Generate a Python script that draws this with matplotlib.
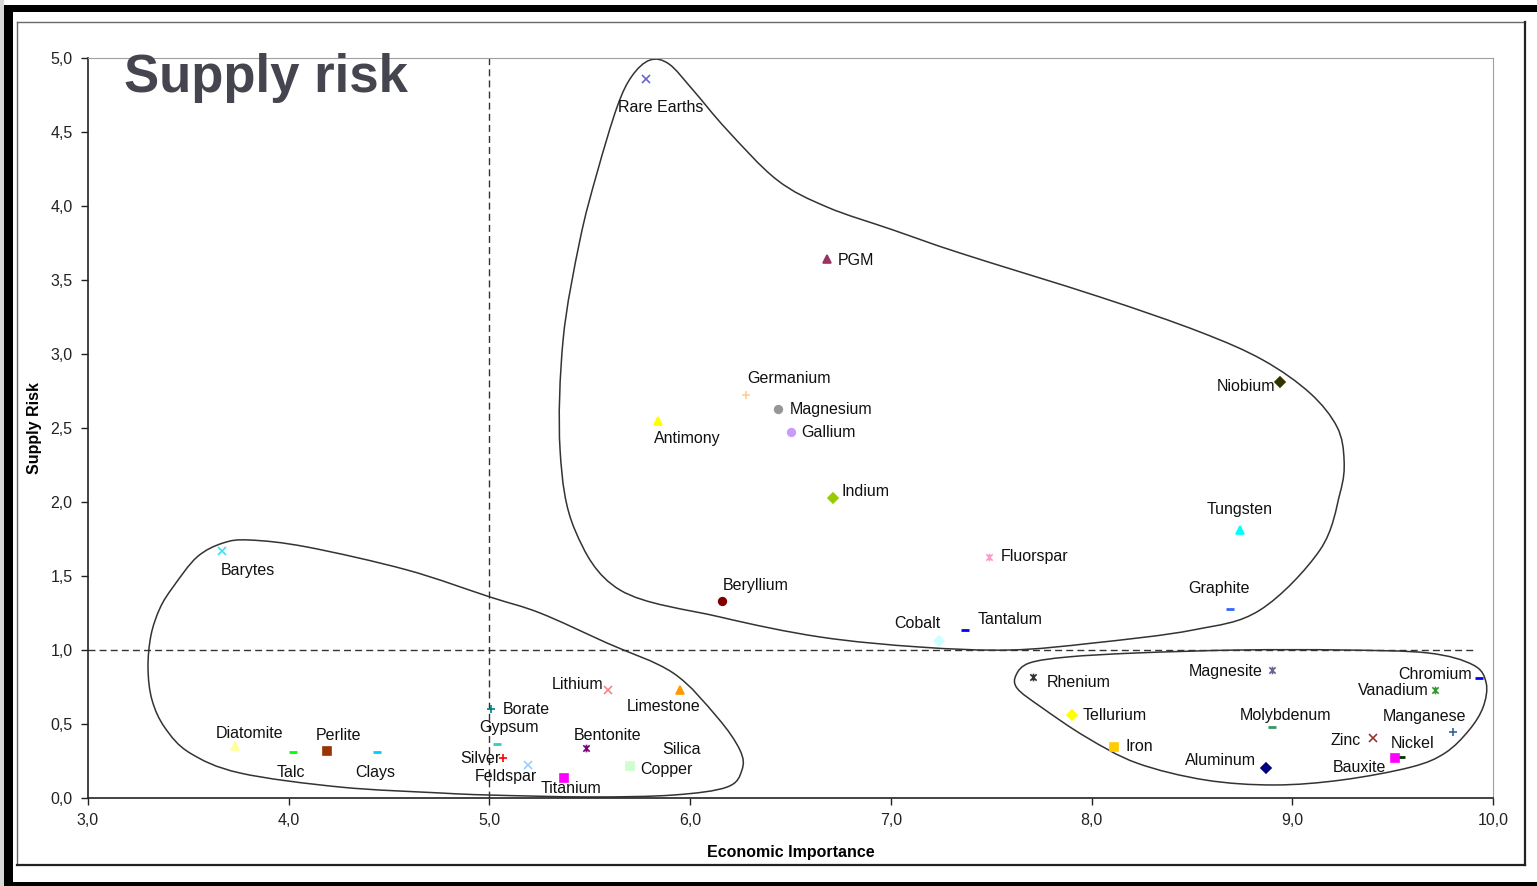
import matplotlib
matplotlib.use("Agg")
import matplotlib.pyplot as plt
from matplotlib.path import Path
from matplotlib.patches import PathPatch, Rectangle
from matplotlib.lines import Line2D
from matplotlib.ticker import FuncFormatter, MultipleLocator

plt.rcParams["font.family"] = ["Liberation Sans", "DejaVu Sans"]

# --- data (economic importance, supply risk) ---
names = [
    "Rare Earths", "PGM", "Germanium", "Magnesium", "Gallium", "Antimony",
    "Indium", "Niobium", "Tungsten", "Fluorspar", "Beryllium", "Cobalt",
    "Tantalum", "Graphite",
    "Rhenium", "Magnesite", "Chromium", "Vanadium", "Tellurium", "Molybdenum",
    "Manganese", "Iron", "Zinc", "Nickel", "Bauxite", "Aluminum",
    "Barytes", "Diatomite", "Talc", "Perlite", "Clays", "Borate", "Gypsum",
    "Silver", "Feldspar", "Titanium", "Bentonite", "Lithium", "Limestone",
    "Copper", "Silica",
]
econ = [
    5.78, 6.68, 6.28, 6.44, 6.50, 5.84,
    6.71, 8.94, 8.74, 7.49, 6.16, 7.24,
    7.37, 8.69,
    7.71, 8.90, 9.93, 9.71, 7.90, 8.90,
    9.80, 8.11, 9.40, 9.54, 9.51, 8.87,
    3.67, 3.73, 4.02, 4.19, 4.44, 5.01, 5.04,
    5.07, 5.19, 5.37, 5.48, 5.59, 5.95,
    5.70, 5.83,
]
risk = [
    4.86, 3.64, 2.72, 2.63, 2.47, 2.55,
    2.03, 2.81, 1.81, 1.63, 1.33, 1.06,
    1.135, 1.28,
    0.82, 0.865, 0.81, 0.73, 0.56, 0.48,
    0.445, 0.345, 0.405, 0.28, 0.27, 0.20,
    1.67, 0.35, 0.31, 0.32, 0.31, 0.60, 0.365,
    0.27, 0.22, 0.135, 0.34, 0.73, 0.73,
    0.215, 0.22,
]

# outlines of the three hand-drawn groups (data coords)
group_hi = [
    (5.800, 4.986), (5.895, 4.959), (6.014, 4.784), (6.184, 4.514),
    (6.433, 4.176), (6.682, 3.993), (7.011, 3.838), (7.345, 3.682),
    (8.042, 3.385), (8.540, 3.149), (8.854, 2.959), (9.088, 2.736),
    (9.223, 2.507), (9.258, 2.284), (9.238, 2.061), (9.138, 1.676),
    (8.839, 1.270), (8.505, 1.135), (8.007, 1.047), (7.594, 1.000),
    (7.145, 1.020), (6.647, 1.088), (6.149, 1.223), (5.651, 1.405),
    (5.426, 1.811), (5.352, 2.351), (5.367, 3.095), (5.451, 3.770),
    (5.536, 4.223), (5.636, 4.669), (5.710, 4.878),
]
group_lo = [
    (3.807, 1.743), (4.091, 1.696), (4.589, 1.541), (5.003, 1.358),
    (5.252, 1.250), (5.586, 1.047), (5.915, 0.845), (6.134, 0.547),
    (6.248, 0.324), (6.258, 0.189), (6.184, 0.074), (5.915, 0.020),
    (5.501, 0.007), (5.003, 0.020), (4.754, 0.034), (4.256, 0.074),
    (3.757, 0.169), (3.508, 0.304), (3.384, 0.473), (3.319, 0.662),
    (3.299, 0.878), (3.314, 1.101), (3.359, 1.284), (3.424, 1.426),
    (3.543, 1.628), (3.673, 1.723),
]
group_right = [
    (7.624, 0.831), (7.690, 0.912), (7.883, 0.953), (8.226, 0.980),
    (8.740, 1.000), (9.248, 1.000), (9.676, 0.980), (9.901, 0.899),
    (9.966, 0.777), (9.951, 0.615), (9.881, 0.459), (9.761, 0.304),
    (9.592, 0.209), (9.248, 0.122), (8.909, 0.088), (8.565, 0.122),
    (8.226, 0.236), (7.972, 0.412), (7.748, 0.615), (7.630, 0.740),
]

# --- styling ---
STAR = Path(
    [(-1, -1), (1, 1), (-1, 1), (1, -1), (0, -1.2), (0, 1.2)],
    [Path.MOVETO, Path.LINETO, Path.MOVETO, Path.LINETO, Path.MOVETO, Path.LINETO],
)
style = {
    "Rare Earths": ("x", "#6666cc"), "PGM": ("^", "#993366"),
    "Germanium": ("+", "#ffcc99"), "Magnesium": ("o", "#969696"),
    "Gallium": ("o", "#cc99ff"), "Antimony": ("^", "#ffff00"),
    "Indium": ("D", "#99cc00"), "Niobium": ("D", "#333300"),
    "Tungsten": ("^", "#00ffff"), "Fluorspar": (STAR, "#ff99cc"),
    "Beryllium": ("o", "#800000"), "Cobalt": ("D", "#ccffff"),
    "Tantalum": ("_", "#0000ff"), "Graphite": ("_", "#3366ff"),
    "Rhenium": (STAR, "#333333"), "Magnesite": (STAR, "#666699"),
    "Chromium": ("_", "#0000ff"), "Vanadium": (STAR, "#339933"),
    "Tellurium": ("D", "#ffff00"), "Molybdenum": ("_", "#339966"),
    "Manganese": ("+", "#336699"), "Iron": ("s", "#ffcc00"),
    "Zinc": ("x", "#993333"), "Nickel": ("_", "#003300"),
    "Bauxite": ("s", "#ff00ff"), "Aluminum": ("D", "#000080"),
    "Barytes": ("x", "#40e0f0"), "Diatomite": ("^", "#ffff99"),
    "Talc": ("_", "#00ff00"), "Perlite": ("s", "#993300"),
    "Clays": ("_", "#00ccff"), "Borate": ("+", "#008080"),
    "Gypsum": ("_", "#33cccc"), "Silver": ("+", "#ff0000"),
    "Feldspar": ("x", "#99ccff"), "Titanium": ("s", "#ff00ff"),
    "Bentonite": (STAR, "#800080"), "Lithium": ("x", "#ff8080"),
    "Limestone": ("^", "#ff9900"), "Copper": ("s", "#ccffcc"),
    "Silica": ("o", "#ffffff"),
}
# label offset in pixels (dx, dy up) and alignment
label_pos = {
    "Rare Earths": (15, -29, "center"), "PGM": (11, -1, "left"),
    "Germanium": (43, 17, "center"), "Magnesium": (11, -1, "left"),
    "Gallium": (11, 0, "left"), "Antimony": (29, -18, "center"),
    "Indium": (9, 6, "left"), "Niobium": (-5, -4, "right"),
    "Tungsten": (0, 21, "center"), "Fluorspar": (12, 0, "left"),
    "Beryllium": (33, 16, "center"), "Cobalt": (-22, 18, "center"),
    "Tantalum": (13, 11, "left"), "Graphite": (-11, 20, "center"),
    "Rhenium": (13, -6, "left"), "Magnesite": (-10, -2, "right"),
    "Chromium": (-7, 4, "right"), "Vanadium": (-6, -1, "right"),
    "Tellurium": (11, 0, "left"), "Molybdenum": (13, 11, "center"),
    "Manganese": (-28, 16, "center"), "Iron": (12, 0, "left"),
    "Zinc": (-12, -2, "right"), "Nickel": (12, 13, "center"),
    "Bauxite": (-9, -9, "right"), "Aluminum": (-10, 8, "right"),
    "Barytes": (25, -20, "center"), "Diatomite": (15, 13, "center"),
    "Talc": (-2, -20, "center"), "Perlite": (12, 15, "center"),
    "Clays": (-2, -20, "center"), "Borate": (11, 0, "left"),
    "Gypsum": (12, 16, "center"), "Silver": (-3, 0, "right"),
    "Feldspar": (-22, -11, "center"), "Titanium": (7, -10, "center"),
    "Bentonite": (22, 12, "center"), "Lithium": (-4, 5, "right"),
    "Limestone": (-16, -17, "center"), "Copper": (10, -3, "left"),
    "Silica": (25, 16, "center"),
}


def closed_curve(pts):
    # periodic Catmull-Rom turned into cubic bezier segments
    n = len(pts)
    verts = [pts[0]]
    codes = [Path.MOVETO]
    for i in range(n):
        p0, p1 = pts[i - 1], pts[i]
        p2, p3 = pts[(i + 1) % n], pts[(i + 2) % n]
        c1 = (p1[0] + (p2[0] - p0[0]) / 6, p1[1] + (p2[1] - p0[1]) / 6)
        c2 = (p2[0] - (p3[0] - p1[0]) / 6, p2[1] - (p3[1] - p1[1]) / 6)
        verts += [c1, c2, p2]
        codes += [Path.CURVE4] * 3
    return Path(verts, codes)


W, H = 1537, 886
fig = plt.figure(figsize=(W / 100, H / 100), dpi=100)
ax = fig.add_axes([88 / W, 1 - 798 / H, (1493 - 88) / W, (798 - 58) / H])

for outline in (group_hi, group_lo, group_right):
    ax.add_patch(PathPatch(closed_curve(outline), fill=False, ec="#333333", lw=1.1))

ax.plot([5.0, 5.0], [0.0, 5.0], ls=(0, (5, 3)), color="#333333", lw=1)
ax.plot([3.0, 9.9], [1.0, 1.0], ls=(0, (5, 3)), color="#333333", lw=1)

for name, x, y in zip(names, econ, risk):
    mk, col = style[name]
    lw = 2 if mk == "_" else 1.2
    ax.plot(x, y, marker=mk, color=col, ms=5.5, mew=lw, ls="none",
            mec=col, mfc=col, zorder=3)
    dx, dy, ha = label_pos[name]
    ax.annotate(name, (x, y), xytext=(dx, dy), textcoords="offset pixels",
                ha=ha, va="center", fontsize=11.5, color="#111111", zorder=4)

ax.set_xlim(3, 10)
ax.set_ylim(0, 5)
ax.xaxis.set_major_locator(MultipleLocator(1))
ax.yaxis.set_major_locator(MultipleLocator(0.5))
fmt = FuncFormatter(lambda v, _: f"{v:.1f}".replace(".", ","))
ax.xaxis.set_major_formatter(fmt)
ax.yaxis.set_major_formatter(fmt)
ax.tick_params(direction="out", length=5, width=1, labelsize=11.5,
               colors="#222222", pad=6)
ax.spines["top"].set_color("#a0a0a0")
ax.spines["right"].set_color("#a0a0a0")
for s in ("left", "bottom"):
    ax.spines[s].set_color("#222222")
    ax.spines[s].set_linewidth(1.2)

ax.set_xlabel("Economic Importance", fontsize=11.5, fontweight="bold", labelpad=12)
fig.text(35 / W, 1 - 428 / H, "Supply Risk", rotation=90, fontsize=11.5,
         fontweight="bold", ha="center", va="center")
fig.text(124 / W, 1 - 92 / H, "Supply risk", fontsize=38, fontweight="bold",
         color="#45454f", ha="left", va="baseline")


# frames around the slide picture (pixel coords, y down)
def fig_box(x0, y0, x1, y1, color):
    fig.patches.append(Rectangle((x0 / W, 1 - y1 / H), (x1 - x0) / W, (y1 - y0) / H,
                                 transform=fig.transFigure, fc=color, ec="none"))


def fig_line(x0, y0, x1, y1, color, lw):
    fig.lines.append(Line2D([x0 / W, x1 / W], [1 - y0 / H, 1 - y1 / H],
                            transform=fig.transFigure, color=color, lw=lw))


fig_box(0, 0, 4, H, "#d8d8d8")
fig_box(4, 5, W, 12, "black")
fig_box(4, 5, 13, H, "black")
fig_box(4, 882, W, H, "black")
fig_line(17, 22, 1525, 22, "#6a6a6a", 1)
fig_line(17, 22, 17, 865, "#6a6a6a", 1)
fig_line(1525, 22, 1525, 865, "#222222", 1.6)
fig_line(17, 865, 1525, 865, "#222222", 1.6)

fig.savefig("out.png", dpi=100)
